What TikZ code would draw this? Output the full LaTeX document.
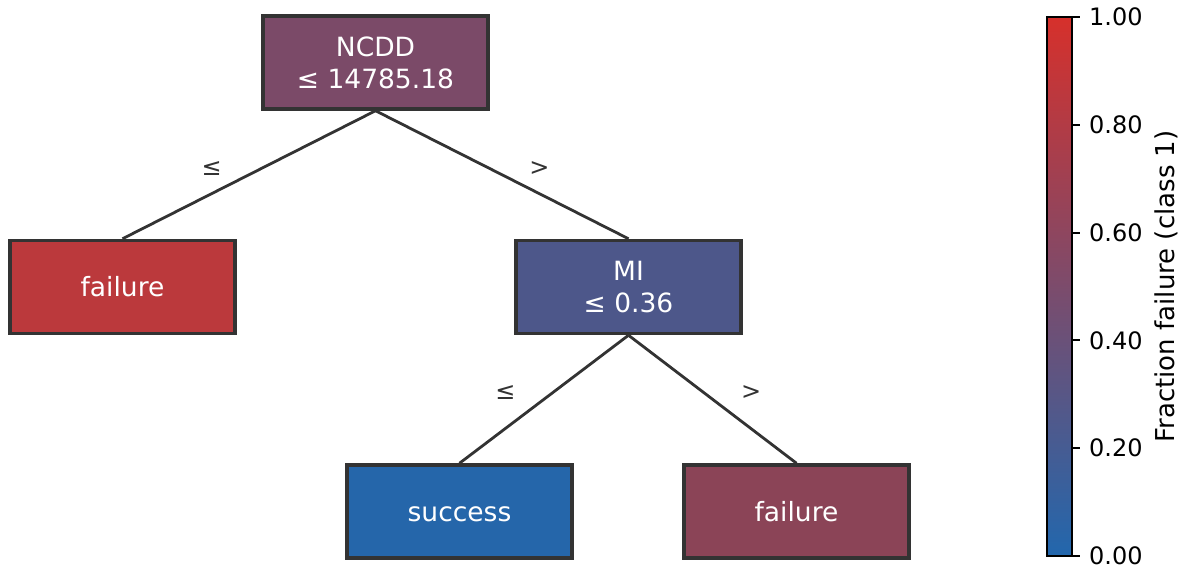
\documentclass[tikz,border=0pt]{standalone}
\usepackage{fontspec}
\setmainfont{DejaVu Sans}
\usepackage{xcolor}
\usepackage{tikz}
\definecolor{edgegray}{HTML}{333333}
\definecolor{rootpurple}{HTML}{7B4A68}
\definecolor{failred}{HTML}{BB393C}
\definecolor{mislate}{HTML}{4D578A}
\definecolor{succblue}{HTML}{2566AA}
\definecolor{failplum}{HTML}{8B4457}
\definecolor{bartop}{HTML}{D6302B}
\definecolor{barbottom}{HTML}{2267AD}
\tikzset{
  treebox/.style={draw=edgegray, line width=3.5pt, text=white, align=center, text centered, minimum width=225pt, minimum height=93pt, inner sep=0pt, font=\fontsize{26.5}{32}\selectfont},
  branchlabel/.style={text=edgegray, inner sep=0pt, font=\fontsize{24}{28}\selectfont}
}

\begin{document}
\begin{tikzpicture}[x=1pt, y=-1pt, node distance=224.5pt]

        \useasboundingbox (0,0) rectangle (1189,569);

        % Nodes
        \node (ncdd) [treebox, fill=rootpurple] at (375.5,62.5) {NCDD\\≤ 14785.18};
        \node (failureleft) [below of=ncdd, xshift=-253pt, treebox, fill=failred] {failure};
        \node (mi) [below of=ncdd, xshift=253pt, treebox, fill=mislate] {MI\\≤ 0.36};
        \node (success) [below of=mi, xshift=-169pt, treebox, fill=succblue] {success\vphantom{l}};
        \node (failureright) [below of=mi, xshift=168pt, treebox, fill=failplum] {failure};

        % Branches
        \foreach \i/\j/\lab/\dx in {ncdd/failureleft/≤/-50pt, ncdd/mi/>/50pt, mi/success/≤/-47pt, mi/failureright/>/47pt} {
            \draw[edgegray, line width=2.8pt] (\i.south) -- node[branchlabel, pos=0.45, xshift=\dx] {\lab} (\j.north);
        }

        % Colour bar
        \shade[top color=bartop, bottom color=barbottom] (1047,17) rectangle (1072,556);
        \draw[black, line width=2pt] (1047,17) rectangle (1072,556);
        \foreach \val/\ypos in {0.00/556, 0.20/448.2, 0.40/340.4, 0.60/232.6, 0.80/124.8, 1.00/17} {
            \draw[black, line width=2pt] (1072,\ypos) -- (1080,\ypos);
            \node (tick\val) [anchor=west, inner sep=0pt, font=\fontsize{24}{28}\selectfont] at (1089,\ypos) {\val};
        }
        \node (barlabel) [rotate=90, inner sep=0pt, font=\fontsize{26}{30}\selectfont] at (1166,286.5) {Fraction failure (class 1)};

    \end{tikzpicture}
\end{document}
